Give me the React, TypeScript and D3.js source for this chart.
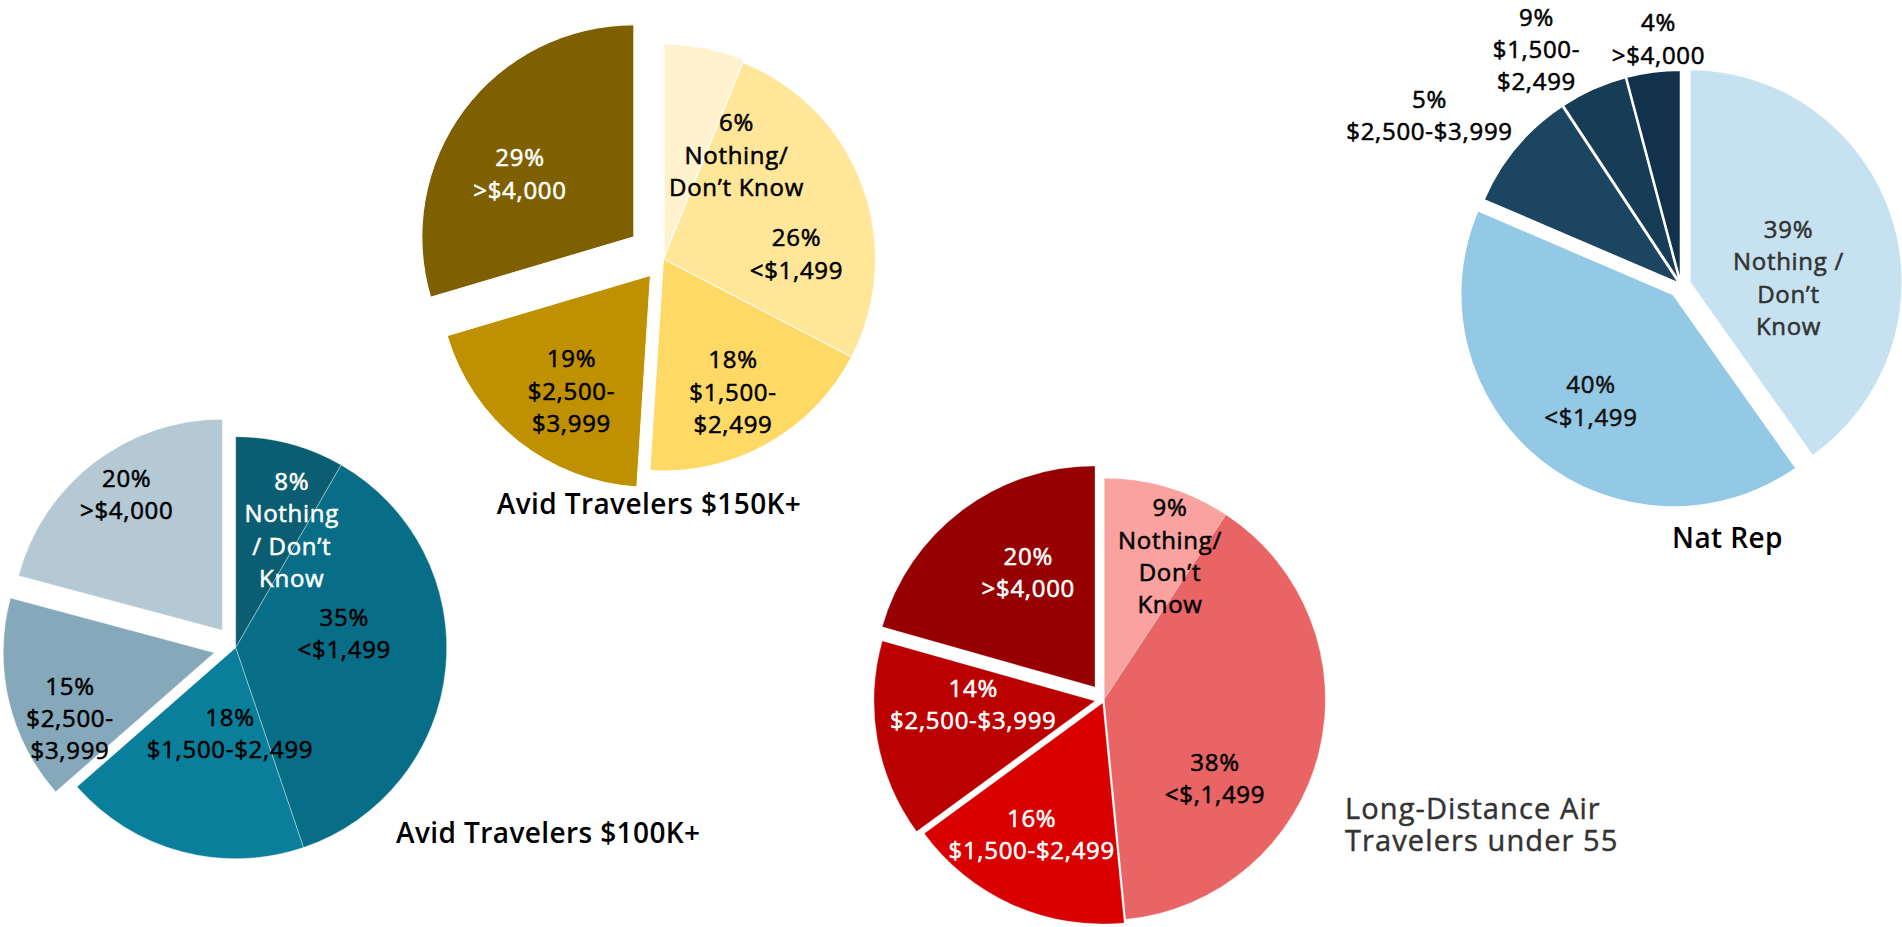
import React from "react";
import * as d3 from "d3";

// ---------- DATA ----------
const categories = ["Nothing / Don't Know", "<$1,499", "$1,500-$2,499", "$2,500-$3,999", ">$4,000"];

const avid150Values = [6, 26, 18, 19, 29];
const avid100Values = [8, 35, 18, 15, 20];
const longDistValues = [9, 38, 16, 14, 20];
const natRepValues = [39, 40, 9, 5, 4];

// category label text as written on each chart (line breaks as in the picture)
const avid150Lines = [["Nothing/", "Don\u2019t Know"], ["<$1,499"], ["$1,500-", "$2,499"], ["$2,500-", "$3,999"], [">$4,000"]];
const avid100Lines = [["Nothing", "/ Don\u2019t", "Know"], ["<$1,499"], ["$1,500-$2,499"], ["$2,500-", "$3,999"], [">$4,000"]];
const longDistLines = [["Nothing/", "Don\u2019t", "Know"], ["<$,1,499"], ["$1,500-$2,499"], ["$2,500-$3,999"], [">$4,000"]];
const natRepLines = [["Nothing /", "Don\u2019t", "Know"], ["<$1,499"], ["$1,500-", "$2,499"], ["$2,500-$3,999"], [">$4,000"]];

const avid150Title = ["Avid Travelers $150K+"];
const avid100Title = ["Avid Travelers $100K+"];
const longDistTitle = ["Long-Distance Air", "Travelers under 55"];
const natRepTitle = ["Nat Rep"];

// ---------- LAYOUT / STYLE ----------
const FONT = "'Open Sans', 'Noto Sans', sans-serif";
const LABEL_FS = 24;
const LINE_H = 32.3;

type PieCfg = {
  values: number[];
  lines: string[][];
  colors: string[];
  textColors: string[];
  cx: number;
  cy: number;
  r: number;
  explode: number[];
  labelOffsets: number[][];
  stroke: string;
  strokeWidth: number;
  title: string[];
  titleX: number;
  titleY: number;
  titleAnchor: "middle" | "start";
  titleWeight: number;
  titleColor: string;
  titleFs: number;
  titleLs: number;
  titleStroke: number;
};

const pies: PieCfg[] = [
  {
    values: avid150Values,
    lines: avid150Lines,
    colors: ["#FFF2CC", "#FFE699", "#FFD966", "#BF9000", "#7F6000"],
    textColors: ["#000", "#000", "#000", "#000", "#fff"],
    cx: 663.5,
    cy: 259,
    r: 212,
    explode: [3, 0, 0, 21, 37],
    labelOffsets: [[73, -104], [133, -5], [69.5, 133], [-92, 132], [-143.5, -85]],
    stroke: "#ffffff",
    strokeWidth: 1,
    title: avid150Title,
    titleX: 649,
    titleY: 514,
    titleAnchor: "middle",
    titleWeight: 600,
    titleColor: "#000",
    titleFs: 28,
    titleLs: 0.4,
    titleStroke: 0,
  },
  {
    values: avid100Values,
    lines: avid100Lines,
    colors: ["#0B5E72", "#086E88", "#0A7F9C", "#85A9BB", "#B5C9D4"],
    textColors: ["#fff", "#000", "#000", "#000", "#000"],
    cx: 235.7,
    cy: 647.7,
    r: 211,
    explode: [0, 0, 0, 22, 22],
    labelOffsets: [[56, -117.7], [108.6, -14.4], [-5.7, 85.6], [-165.7, 70.6], [-109, -153.5]],
    stroke: "rgba(255,255,255,0.45)",
    strokeWidth: 0.8,
    title: avid100Title,
    titleX: 548.3,
    titleY: 843,
    titleAnchor: "middle",
    titleWeight: 600,
    titleColor: "#000",
    titleFs: 28,
    titleLs: 0.4,
    titleStroke: 0,
  },
  {
    values: longDistValues,
    lines: longDistLines,
    colors: ["#F9A2A0", "#E96565", "#D90000", "#BB0000", "#960000"],
    textColors: ["#000", "#000", "#fff", "#fff", "#fff"],
    cx: 1104.3,
    cy: 699.3,
    r: 221,
    explode: [0, 0, 4, 9.5, 15.5],
    labelOffsets: [[65.7, -143.1], [110.7, 79.4], [-72.6, 135.4], [-131, 4.9], [-76, -126.8]],
    stroke: "rgba(255,255,255,0.35)",
    strokeWidth: 0.6,
    title: longDistTitle,
    titleX: 1345,
    titleY: 818.5,
    titleAnchor: "start",
    titleWeight: 400,
    titleColor: "#333333",
    titleFs: 29,
    titleLs: 1.1,
    titleStroke: 0.45,
  },
  {
    values: natRepValues,
    lines: natRepLines,
    colors: ["#C6E2F1", "#94C9E5", "#1B4560", "#173C55", "#12314A"],
    textColors: ["#333333", "#111", "#000", "#000", "#000"],
    cx: 1681,
    cy: 285,
    r: 213,
    explode: [9, 12, 2, 2, 2],
    labelOffsets: [[107.5, -7], [-90, 116], [-144.5, -235.5], [-251.5, -169.3], [-22.5, -246]],
    stroke: "#ffffff",
    strokeWidth: 2,
    title: natRepTitle,
    titleX: 1727.5,
    titleY: 548,
    titleAnchor: "middle",
    titleWeight: 600,
    titleColor: "#000",
    titleFs: 28,
    titleLs: 0.4,
    titleStroke: 0,
  },
];

function Pie({ cfg }: { cfg: PieCfg }) {
  const pieGen = d3
    .pie<number>()
    .sort(null)
    .value((d) => d)
    .startAngle(0)
    .endAngle(2 * Math.PI);
  const arcs = pieGen(cfg.values);
  const arcGen = d3.arc<d3.PieArcDatum<number>>().innerRadius(0).outerRadius(cfg.r);

  return (
    <g>
      {arcs.map((a, i) => {
        const mid = (a.startAngle + a.endAngle) / 2;
        const e = cfg.explode[i];
        const tx = cfg.cx + e * Math.sin(mid);
        const ty = cfg.cy - e * Math.cos(mid);
        return (
          <path
            key={"s" + i}
            aria-label={categories[i]}
            d={arcGen(a) || ""}
            transform={`translate(${tx},${ty})`}
            fill={cfg.colors[i]}
            stroke={cfg.stroke}
            strokeWidth={cfg.strokeWidth}
            strokeLinejoin="miter"
          />
        );
      })}
      {arcs.map((a, i) => {
        const textLines = [`${cfg.values[i]}%`, ...cfg.lines[i]];
        const n = textLines.length;
        const bx = cfg.cx + cfg.labelOffsets[i][0];
        const by = cfg.cy + cfg.labelOffsets[i][1];
        return (
          <text
            key={"t" + i}
            textAnchor="middle"
            fontFamily={FONT}
            fontSize={LABEL_FS}
            fontWeight={400}
            letterSpacing={0.7}
            fill={cfg.textColors[i]}
            stroke={cfg.textColors[i]}
            strokeWidth={0.55}
          >
            {textLines.map((ln, j) => (
              <tspan key={j} x={bx} y={by + (j - (n - 1) / 2) * LINE_H + 0.36 * LABEL_FS}>
                {ln}
              </tspan>
            ))}
          </text>
        );
      })}
      {cfg.title.map((t, j) => (
        <text
          key={"h" + j}
          x={cfg.titleX}
          y={cfg.titleY + j * 32.4}
          textAnchor={cfg.titleAnchor}
          fontFamily={FONT}
          fontSize={cfg.titleFs}
          fontWeight={cfg.titleWeight}
          letterSpacing={cfg.titleLs}
          fill={cfg.titleColor}
          stroke={cfg.titleStroke > 0 ? cfg.titleColor : "none"}
          strokeWidth={cfg.titleStroke}
        >
          {t}
        </text>
      ))}
    </g>
  );
}

export default function App() {
  return (
    <div style={{ position: "absolute", left: 0, top: 0, width: 1902, height: 927, overflow: "hidden", background: "#fff" }}>
      <svg width={1902} height={927} viewBox="0 0 1902 927" style={{ display: "block" }}>
        <rect x={0} y={0} width={1902} height={927} fill="#ffffff" />
        {pies.map((p, i) => (
          <Pie key={i} cfg={p} />
        ))}
      </svg>
    </div>
  );
}
